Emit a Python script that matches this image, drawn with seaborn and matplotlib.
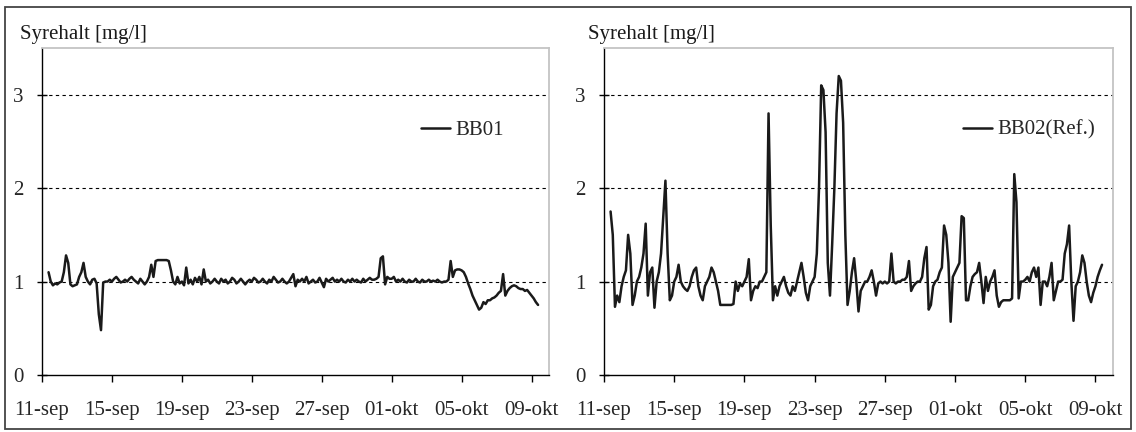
import numpy as np
import pandas as pd
import matplotlib
matplotlib.use("Agg")
import matplotlib.pyplot as plt
import seaborn as sns

# ---------------- data ----------------
start_time = "2006-09-11 09:00"
step = "3h"

# BB01, 3-hourly readings (day 0 starts 09:00)
bb01 = [
    1.10, 1.00, 0.96, 0.98, 0.97,                      # 11-sep
    0.99, 1.00, 1.10, 1.28, 1.20, 0.97, 0.95, 0.96,    # 12-sep
    0.97, 1.05, 1.10, 1.20, 1.05, 1.00, 0.97, 1.02,    # 13-sep
    1.03, 0.98, 0.65, 0.48, 0.99, 1.00, 1.00, 1.02,    # 14-sep
    1.00, 1.03, 1.05, 1.02, 0.99, 1.00, 1.02, 1.00,    # 15-sep
    1.03, 1.05, 1.02, 1.00, 0.98, 1.03, 1.00, 0.97,    # 16-sep
    1.00, 1.05, 1.18, 1.05, 1.22, 1.23, 1.23, 1.23,    # 17-sep
    1.23, 1.23, 1.22, 1.12, 1.00, 0.97, 1.05, 0.98,    # 18-sep
    1.00, 0.96, 1.15, 0.98, 1.02, 0.97, 1.04, 1.00,    # 19-sep
    1.05, 0.97, 1.13, 1.00, 1.02, 0.98, 1.00, 1.03,    # 20-sep
    1.00, 0.98, 1.03, 1.00, 1.02, 0.98, 1.00, 1.04,    # 21-sep
    1.02, 0.98, 1.00, 1.03, 1.00, 0.97, 1.00, 1.02,    # 22-sep
    1.00, 1.04, 1.02, 0.99, 1.00, 1.03, 1.00, 0.98,    # 23-sep
    1.02, 1.00, 1.05, 1.02, 0.99, 1.00, 1.03, 1.00,    # 24-sep
    0.98, 1.00, 1.04, 1.08, 0.95, 1.02, 1.00, 1.03,    # 25-sep
    1.00, 1.05, 0.98, 1.00, 1.02, 0.99, 1.00, 1.04,    # 26-sep
    0.99, 0.94, 1.03, 1.00, 1.02, 1.04, 1.00, 1.02,    # 27-sep
    1.00, 1.03, 1.00, 0.99, 1.02, 1.00, 1.03, 1.00,    # 28-sep
    1.02, 1.00, 0.99, 1.03, 1.00, 1.02, 1.04, 1.02,    # 29-sep
    1.02, 1.03, 1.05, 1.25, 1.27, 0.97, 1.05, 1.03,    # 30-sep
    1.03, 1.05, 1.00, 1.02, 1.00, 1.03, 1.00, 0.99,    # 01-okt
    1.02, 1.00, 1.00, 1.03, 1.00, 0.99, 1.02, 1.00,    # 02-okt
    1.00, 1.02, 1.00, 1.01, 1.00, 1.02, 1.00, 0.99,    # 03-okt
    1.00, 1.00, 1.02, 1.22, 1.05, 1.12, 1.13, 1.13,    # 04-okt
    1.12, 1.10, 1.05, 0.98, 0.92, 0.85, 0.80, 0.75,    # 05-okt
    0.70, 0.72, 0.78, 0.76, 0.80, 0.80, 0.82, 0.83,    # 06-okt
    0.85, 0.88, 0.90, 1.08, 0.85, 0.90, 0.93, 0.95,    # 07-okt
    0.96, 0.95, 0.93, 0.92, 0.92, 0.90, 0.91, 0.88,    # 08-okt
    0.85, 0.82, 0.78, 0.75,                            # 09-okt
]

# BB02 (Ref.), 3-hourly readings
bb02 = [
    1.75, 1.50, 0.73, 0.85, 0.78,                      # 11-sep
    0.95, 1.05, 1.12, 1.50, 1.30, 0.75, 0.85, 1.00,    # 12-sep
    1.05, 1.15, 1.30, 1.62, 0.85, 1.10, 1.15, 0.72,    # 13-sep
    1.00, 1.10, 1.30, 1.70, 2.08, 1.30, 0.80, 0.85,    # 14-sep
    1.00, 1.05, 1.18, 1.00, 0.95, 0.92, 0.90, 0.95,    # 15-sep
    1.05, 1.12, 1.15, 0.95, 0.85, 0.80, 0.95, 1.00,    # 16-sep
    1.05, 1.15, 1.10, 1.00, 0.90, 0.75, 0.75, 0.75,    # 17-sep
    0.75, 0.75, 0.75, 0.76, 1.00, 0.90, 0.98, 0.95,    # 18-sep
    1.00, 1.05, 1.24, 0.80, 0.90, 0.95, 0.93, 1.00,    # 19-sep
    1.00, 1.05, 1.10, 2.80, 1.60, 0.80, 0.95, 0.85,    # 20-sep
    0.95, 1.00, 1.05, 0.95, 0.88, 0.85, 0.95, 0.90,    # 21-sep
    1.00, 1.10, 1.20, 1.05, 0.88, 0.80, 0.95, 1.00,    # 22-sep
    1.05, 1.30, 2.00, 3.10, 3.05, 2.60, 1.20, 0.85,    # 23-sep
    1.40, 2.00, 2.80, 3.20, 3.15, 2.70, 1.50, 0.75,    # 24-sep
    0.90, 1.10, 1.25, 1.00, 0.68, 0.90, 0.95, 1.00,    # 25-sep
    1.00, 1.05, 1.12, 1.00, 0.85, 0.98, 1.00, 0.98,    # 26-sep
    1.00, 0.98, 1.00, 1.30, 1.00, 0.98, 1.00, 1.00,    # 27-sep
    1.02, 1.02, 1.05, 1.22, 0.90, 0.95, 0.98, 1.00,    # 28-sep
    1.00, 1.05, 1.25, 1.37, 0.70, 0.75, 0.95, 1.00,    # 29-sep
    1.02, 1.10, 1.15, 1.60, 1.50, 1.20, 0.57, 1.05,    # 30-sep
    1.10, 1.15, 1.20, 1.70, 1.68, 0.80, 0.80, 0.95,    # 01-okt
    1.05, 1.08, 1.10, 1.20, 1.00, 0.77, 1.05, 0.90,    # 02-okt
    1.00, 1.05, 1.12, 0.85, 0.73, 0.78, 0.80, 0.80,    # 03-okt
    0.80, 0.80, 0.82, 2.15, 1.85, 0.82, 1.00, 1.00,    # 04-okt
    1.02, 1.05, 1.00, 1.10, 1.15, 1.05, 1.15, 0.75,    # 05-okt
    1.00, 1.00, 0.95, 1.05, 1.20, 0.80, 0.90, 1.00,    # 06-okt
    1.00, 1.02, 1.30, 1.40, 1.60, 1.00, 0.58, 0.95,    # 07-okt
    1.00, 1.10, 1.28, 1.20, 1.00, 0.85, 0.78, 0.88,    # 08-okt
    0.95, 1.05, 1.12, 1.18,                            # 09-okt
]

series_names = ["BB01", "BB02(Ref.)"]
y_label = "Syrehalt [mg/l]"
y_ticks = [0, 1, 2, 3]
tick_dates = ["2006-09-11", "2006-09-15", "2006-09-19", "2006-09-23",
              "2006-09-27", "2006-10-01", "2006-10-05", "2006-10-09"]
tick_labels = ["11-sep", "15-sep", "19-sep", "23-sep",
               "27-sep", "01-okt", "05-okt", "09-okt"]

# ---------------- style ----------------
sns.set_theme(style="white")
plt.rcParams["font.family"] = ["Liberation Serif", "DejaVu Serif"]
FS = 15

W, H = 1136, 432
fig = plt.figure(figsize=(W / 100, H / 100), dpi=100)
fig.patch.set_facecolor("white")

def ax_rect(x0, x1, y0, y1):
    return [x0 / W, 1 - y1 / H, (x1 - x0) / W, (y1 - y0) / H]

axes = [fig.add_axes(ax_rect(42, 549, 48, 375)),
        fig.add_axes(ax_rect(604, 1113, 48, 375))]

times = pd.date_range(start=start_time, periods=len(bb01), freq=step)
data = [bb01, bb02]
legend_x = [0.748, 0.705]
label_x = [20, 588]

for i, ax in enumerate(axes):
    df = pd.DataFrame({"time": times, "value": data[i]})
    sns.lineplot(data=df, x="time", y="value", ax=ax, color="#1a1a1a",
                 linewidth=1.8, label=series_names[i])
    ax.set_ylim(0, 3.5)
    ax.set_xlim(pd.Timestamp("2006-09-11"), pd.Timestamp("2006-10-10"))
    ax.set_yticks(y_ticks)
    ax.set_yticklabels([str(t) for t in y_ticks])
    ax.set_xticks([pd.Timestamp(d) for d in tick_dates])
    ax.set_xticklabels(tick_labels)
    ax.set_xlabel("")
    ax.set_ylabel("")
    for yv in [1, 2, 3]:
        ax.axhline(yv, color="black", linewidth=0.8, linestyle=(0, (3, 3)), zorder=0)
    ax.spines["left"].set_color("black")
    ax.spines["bottom"].set_color("black")
    ax.spines["left"].set_linewidth(1.0)
    ax.spines["bottom"].set_linewidth(1.0)
    for s in ["top", "right"]:
        ax.spines[s].set_color("#c4c4c4")
        ax.spines[s].set_linewidth(1.3)
    ax.tick_params(axis="y", direction="inout", length=7, width=1.0,
                   color="black", pad=10, labelsize=FS, left=True)
    ax.tick_params(axis="x", direction="out", length=5, width=1.0,
                   color="black", pad=14, labelsize=FS, bottom=True)
    ax.legend(loc="center left", bbox_to_anchor=(legend_x[i], 0.749),
              frameon=False, fontsize=FS, handlelength=1.4,
              handletextpad=0.25, borderpad=0, borderaxespad=0)
    fig.text(label_x[i] / W, 1 - 35 / H, y_label, fontsize=FS,
             ha="left", va="center", color="#1a1a1a")

# outer frame
fig.add_artist(plt.Rectangle((5 / W, 1 - 429 / H), 1126 / W, 422 / H,
                             transform=fig.transFigure, fill=False,
                             edgecolor="#444444", linewidth=1.3))

fig.savefig("out.png", dpi=100)
